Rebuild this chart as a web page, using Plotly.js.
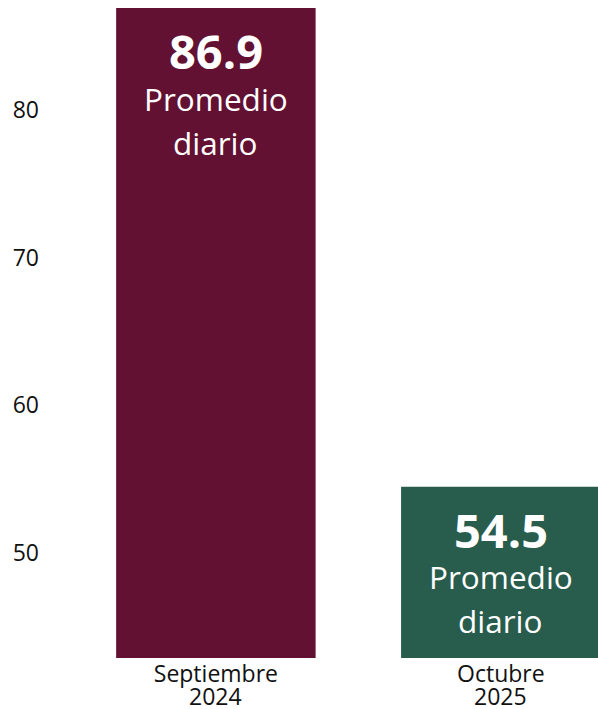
<!DOCTYPE html>
<html>
<head>
<meta charset="utf-8">
<script src="https://cdn.plot.ly/plotly-3.0.1.min.js"></script>
<style>html,body{margin:0;padding:0;background:#fff;}#chart{width:598px;height:709px;}</style>
</head>
<body>
<div id="chart"></div>
<script>
// Data
const months = ["Septiembre", "Octubre"];
const years = ["2024", "2025"];
const values = [86.9, 54.5];
const valueLabel = ["Promedio", "diario"];
const barColors = ["#621132", "#285C4D"];
const yTicks = [50, 60, 70, 80];

const xIdx = months.map((_, i) => i);
const FONT = "Open Sans, Noto Sans, sans-serif";

const trace = {
  type: "bar",
  x: xIdx,
  y: values,
  width: 0.70,
  marker: {color: barColors, line: {width: 0}},
  hoverinfo: "skip"
};

const annotations = [];
xIdx.forEach((xi, i) => {
  annotations.push({
    x: xi, y: values[i], xref: "x", yref: "y",
    text: "<b>" + values[i].toFixed(1) + "</b>",
    showarrow: false, yanchor: "middle", xanchor: "center", yshift: -43,
    borderpad: 0,
    font: {family: FONT, size: 47, color: "#ffffff"}
  });
  valueLabel.forEach((t, k) => {
    annotations.push({
      x: xi, y: values[i], xref: "x", yref: "y",
      text: t,
      showarrow: false, yanchor: "middle", xanchor: "center", yshift: -90 - k * 44,
      borderpad: 0,
      font: {family: FONT, size: 31.5, color: "#ffffff"}
    });
  });
  annotations.push({
    x: xi, y: 0, xref: "x", yref: "paper",
    text: years[i],
    showarrow: false, yanchor: "middle", xanchor: "center", yshift: -38,
    borderpad: 0,
    font: {family: FONT, size: 23, color: "#111111"}
  });
});

const layout = {
  width: 598, height: 709,
  margin: {l: 60, r: 0, t: 8, b: 51, pad: 0},
  paper_bgcolor: "#ffffff",
  plot_bgcolor: "#ffffff",
  showlegend: false,
  xaxis: {
    type: "linear",
    range: [-0.547, 1.341],
    tickvals: xIdx,
    ticktext: months,
    showgrid: false, zeroline: false, showline: false, ticks: "",
    tickfont: {family: FONT, size: 23, color: "#111111"},
    fixedrange: true
  },
  yaxis: {
    range: [42.9, 86.9],
    tickvals: yTicks,
    showgrid: false, zeroline: false, showline: false, ticks: "",
    ticklabelstandoff: 20,
    tickfont: {family: FONT, size: 23, color: "#111111"},
    fixedrange: true
  },
  annotations: annotations
};

Plotly.newPlot("chart", [trace], layout, {displayModeBar: false, staticPlot: true});
</script>
</body>
</html>
